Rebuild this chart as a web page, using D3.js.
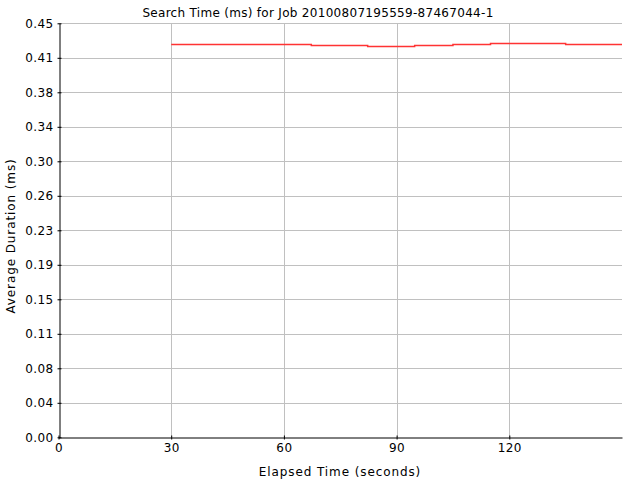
<!DOCTYPE html>
<html><head><meta charset="utf-8">
<script src="https://cdn.jsdelivr.net/npm/d3@7"></script>
<style>
html,body{margin:0;padding:0;background:#fff;}
svg{display:block;}
text{font-family:"DejaVu Sans",sans-serif;font-size:12px;fill:#000;}
</style></head>
<body>
<script>
const titleText = "Search Time (ms) for Job 20100807195559-87467044-1";
const xLabel = "Elapsed Time (seconds)";
const yLabel = "Average Duration (ms)";
// step points: elapsed seconds and average duration
const times = [30, 67.3, 82.3, 94.8, 105, 115, 135, 150];
const durations = [0.4272, 0.4261, 0.4250, 0.4261, 0.4272, 0.4283, 0.4272, 0.4272];
const xTicks = [0, 30, 60, 90, 120];
const yTicks = [0, 0.0375, 0.075, 0.1125, 0.15, 0.1875, 0.225, 0.2625, 0.3, 0.3375, 0.375, 0.4125, 0.45];
const yTickLabels = ["0.00", "0.04", "0.08", "0.11", "0.15", "0.19", "0.23", "0.26", "0.30", "0.34", "0.38", "0.41", "0.45"];

const W = 640, H = 480;
const m = {left: 58.5, right: 622, top: 23.3, bottom: 437.3};
const svg = d3.select("body").append("svg").attr("width", W).attr("height", H);

const x = d3.scaleLinear().domain([0, 150]).range([m.left, m.right]);
const y = d3.scaleLinear().domain([0, 0.45]).range([m.bottom, m.top]);

// grid
svg.append("g").selectAll("line").data(yTicks.slice(1)).join("line")
  .attr("x1", m.left).attr("x2", m.right)
  .attr("y1", d => Math.round(y(d)) + 0.5).attr("y2", d => Math.round(y(d)) + 0.5)
  .attr("stroke", "#c0c0c0").attr("stroke-width", 1);
svg.append("g").selectAll("line").data(xTicks.slice(1)).join("line")
  .attr("y1", m.top).attr("y2", m.bottom)
  .attr("x1", d => Math.round(x(d)) + 0.5).attr("x2", d => Math.round(x(d)) + 0.5)
  .attr("stroke", "#c0c0c0").attr("stroke-width", 1);

// data line (step)
const pts = times.map((t, i) => [t, durations[i]]);
const line = d3.line().x(d => x(d[0])).y(d => Math.round(y(d[1])) + 0.5).curve(d3.curveStepAfter);
svg.append("path").datum(pts).attr("d", line)
  .attr("fill", "none").attr("stroke", "#ff3333").attr("stroke-width", 1.5);

// axes
const yAxis = d3.axisLeft(y).tickValues(yTicks).tickFormat((d, i) => yTickLabels[i]).tickSizeInner(2).tickSizeOuter(0).tickPadding(4);
const gy = svg.append("g").attr("transform", `translate(${Math.round(m.left)+0.5},0)`).call(yAxis);
gy.select(".domain").attr("stroke", "#000");
gy.selectAll(".tick line").attr("x2", -2).attr("x1", 2).attr("stroke", "#000");
gy.selectAll(".tick text").attr("x", -6).style("font-size", "12px").style("letter-spacing", "0.4px");

const xAxis = d3.axisBottom(x).tickValues(xTicks).tickFormat(d3.format("d")).tickSizeInner(2).tickSizeOuter(0).tickPadding(4);
const gx = svg.append("g").attr("transform", `translate(0,${Math.round(m.bottom)+0.5})`).call(xAxis);
gx.select(".domain").attr("stroke", "#000");
gx.selectAll(".tick line").attr("y1", -2).attr("y2", 2).attr("stroke", "#000");
gx.selectAll(".tick text").attr("y", 6).style("font-size", "12px").style("letter-spacing", "0.4px");

// titles
svg.append("text").attr("x", 318).attr("y", 17).attr("text-anchor", "middle")
  .style("letter-spacing", "0.3px").text(titleText);
svg.append("text").attr("x", 340).attr("y", 476).attr("text-anchor", "middle")
  .style("letter-spacing", "0.9px").text(xLabel);
svg.append("text").attr("transform", "translate(15,236) rotate(-90)").attr("text-anchor", "middle")
  .style("letter-spacing", "0.9px").text(yLabel);
</script>
</body></html>
